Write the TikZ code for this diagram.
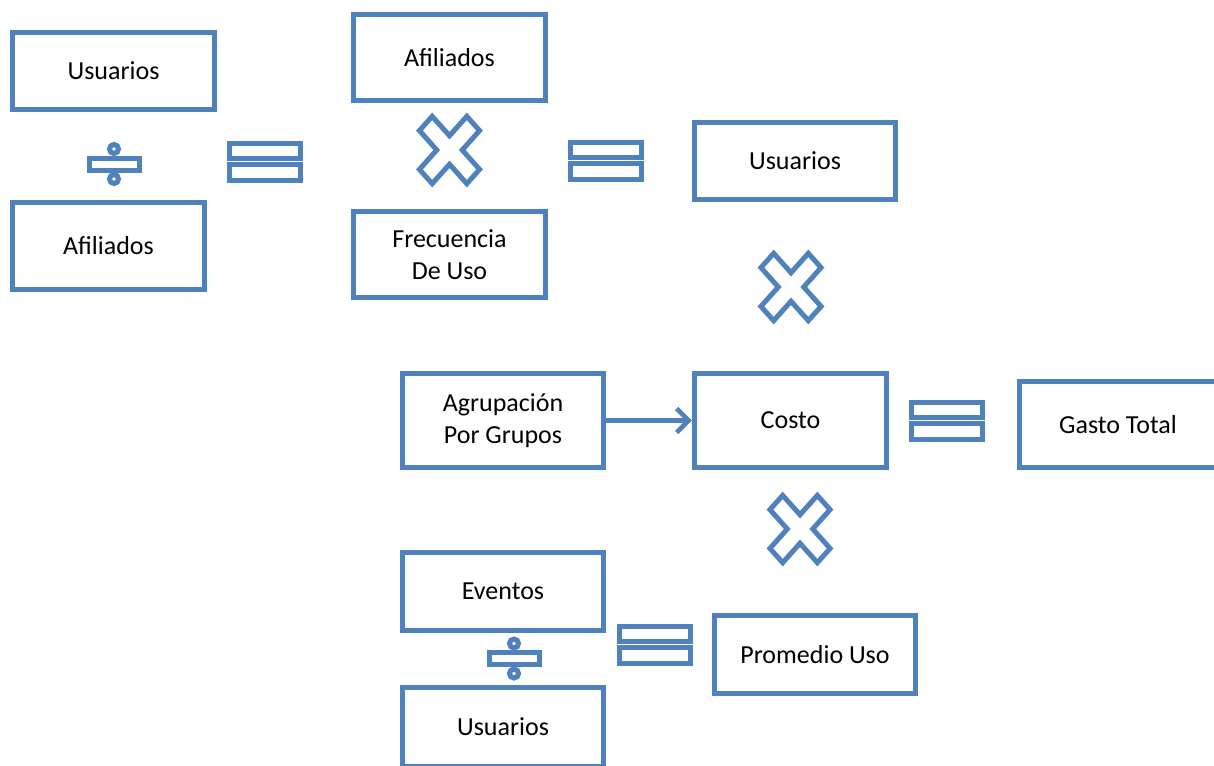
\documentclass[tikz,border=0pt]{standalone}
\usepackage{fontspec}
\setmainfont{Carlito}
\usetikzlibrary{arrows.meta}
\definecolor{accent}{HTML}{4F81BD}
\tikzset{
  box/.style={draw=accent, line width=5.5pt, fill=white, inner sep=0pt, align=center,
    font=\fontsize{26}{32}\selectfont, text=black},
  symline/.style={draw=accent, line width=5pt, fill=white, line join=miter},
  eqsign/.pic={
    \path[symline] (-35.5,-18.5) rectangle (35.5,-3.5);
    \path[symline] (-35.5,2.5) rectangle (35.5,18.5);
  },
  divsign/.pic={
    \path[symline] (0,-15) circle (4.5);
    \path[symline] (0,15) circle (4.5);
    \path[symline] (-25,-6) rectangle (25,6);
  },
  timessign/.pic={
    \begin{scope}[yscale=1.12, rotate=45]
      \path[symline] (9,9) -- (9,33.5) -- (-9,33.5) -- (-9,9) -- (-33.5,9) -- (-33.5,-9)
        -- (-9,-9) -- (-9,-33.5) -- (9,-33.5) -- (9,-9) -- (33.5,-9) -- (33.5,9) -- cycle;
    \end{scope}
  }
}
\begin{document}
\begin{tikzpicture}[x=1pt, y=-1pt]
\clip (0,0) rectangle (1214,765);
\fill[white] (0,0) rectangle (1214,765);

% boxes
\node[box, minimum width=202pt, minimum height=77pt] (usu1) at (113.5,71) {Usuarios};
\node[box, minimum width=192pt, minimum height=87pt] (afi1) at (108.5,246) {Afiliados};
\node[box, minimum width=192pt, minimum height=86pt] (afi2) at (449.5,57.5) {Afiliados};
\node[box, minimum width=192pt, minimum height=86pt] (frec) at (449.5,254.5) {Frecuencia\\De Uso};
\node[box, minimum width=201pt, minimum height=77pt] (usu2) at (795,161) {Usuarios};
\node[box, minimum width=201pt, minimum height=94pt] (agru) at (503,420.5) {Agrupación\\Por Grupos};
\node[box, minimum width=192pt, minimum height=94pt] (costo) at (790.5,420.5) {Costo};
\node[box, minimum width=197pt, minimum height=86pt] (gasto) at (1118,424.5) {Gasto Total};
\node[box, minimum width=201pt, minimum height=78pt] (even) at (503,591.5) {Eventos};
\node[box, minimum width=201pt, minimum height=78pt] (prom) at (815,654.5) {Promedio Uso};
\node[box, minimum width=201pt, minimum height=79pt] (usu3) at (503,727) {Usuarios};

% connector
\draw[accent, line width=4.5pt, -{Straight Barb[length=12pt, width=24pt]}] (agru.east) -- (costo.west);

% operators
\pic at (114,164) {divsign};
\pic at (265,161.5) {eqsign};
\pic at (449.5,150) {timessign};
\pic at (605.5,161) {eqsign};
\pic at (791,287) {timessign};
\pic at (946.5,421) {eqsign};
\pic at (800,529) {timessign};
\pic at (654.5,645) {eqsign};
\pic at (514,658.5) {divsign};
\end{tikzpicture}
\end{document}
